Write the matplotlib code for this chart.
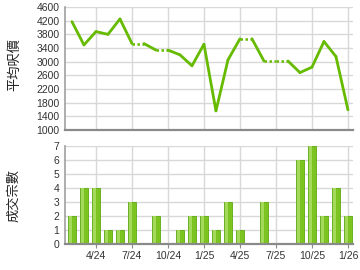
import matplotlib
matplotlib.use("Agg")
import matplotlib.pyplot as plt
import numpy as np

plt.rcParams['font.family'] = ['Liberation Sans', 'Noto Sans CJK TC', 'DejaVu Sans']

months = ["2/24", "3/24", "4/24", "5/24", "6/24", "7/24", "8/24", "9/24", "10/24",
          "11/24", "12/24", "1/25", "2/25", "3/25", "4/25", "5/25", "6/25", "7/25",
          "8/25", "9/25", "10/25", "11/25", "12/25", "1/26"]
avg_price = [4170, 3490, 3880, 3800, 4250, 3530, None, 3340, None,
             3200, 2880, 3510, 1560, 3050, 3670, None, 3020, None,
             None, 2680, 2840, 3590, 3150, 1590]
counts = [2, 4, 4, 1, 1, 3, 0, 2, 0, 1, 2, 2, 1, 3, 1, 0, 3, 0, 0, 6, 7, 2, 4, 2]
tick_labels = ["4/24", "7/24", "10/24", "1/25", "4/25", "7/25", "10/25", "1/26"]
price_ticks = [1000, 1400, 1800, 2200, 2600, 3000, 3400, 3800, 4200, 4600]
count_ticks = [0, 1, 2, 3, 4, 5, 6, 7]

x = np.arange(len(months))
tick_pos = [months.index(t) for t in tick_labels]

fig = plt.figure(figsize=(3.6, 2.7), dpi=100)
W, H = 360, 270
def rect(l, t, r, b):
    return [l / W, 1 - b / H, (r - l) / W, (b - t) / H]

ax1 = fig.add_axes(rect(65, 7, 353, 130))
ax2 = fig.add_axes(rect(65, 146, 353, 244))

grid_c = '#d8d8d8'
line_c = '#66bb00'
for ax in (ax1, ax2):
    ax.set_xlim(-0.58, len(months) - 0.58)
    ax.set_xticks(tick_pos)
    for s in ('top', 'right'):
        ax.spines[s].set_visible(False)
    ax.spines['left'].set_color('#a0a0a0')
    ax.spines['left'].set_linewidth(1.2)
    ax.spines['bottom'].set_color('#8a8a8a')
    ax.spines['bottom'].set_linewidth(1.6)
    ax.grid(True, color=grid_c, linewidth=1.0)
    ax.set_axisbelow(True)
    ax.tick_params(axis='y', length=0, pad=4, labelsize=7.5, labelcolor='#333333')

# top: price line
ax1.set_ylim(1000, 4600)
ax1.set_yticks(price_ticks)
ax1.set_xticklabels([])
ax1.tick_params(axis='x', length=0)
prev = avg_price[0]
for i in range(1, len(months)):
    v = avg_price[i]
    if v is None:
        ax1.plot([x[i - 1], x[i]], [prev, prev], color=line_c, lw=1.8,
                 linestyle=(0, (1, 1)), dash_capstyle='butt')
    else:
        ax1.plot([x[i - 1], x[i]], [prev, v], color=line_c, lw=2.0,
                 solid_capstyle='round', solid_joinstyle='round')
        prev = v
ax1.set_ylabel("平均呎價", fontsize=9.5, color='#222222',
               family=['Noto Sans CJK TC', 'DejaVu Sans'])
ax1.yaxis.set_label_coords(-0.153, 0.53)

# bottom: counts
ax2.set_ylim(0, 7)
ax2.set_yticks(count_ticks)
ax2.set_xticklabels(tick_labels, fontsize=7.5, color='#333333')
ax2.tick_params(axis='x', length=3, color='#8a8a8a', pad=2)
ax2.bar(x, counts, width=0.66, color='#7cc41f', edgecolor='#5ea812', linewidth=0.6)
ax2.bar(x - 0.12, counts, width=0.22, color='#a4d95c', linewidth=0)
ax2.set_ylabel("成交宗數", fontsize=9.5, color='#222222',
               family=['Noto Sans CJK TC', 'DejaVu Sans'])
ax2.yaxis.set_label_coords(-0.155, 0.5)

fig.savefig("out.png", dpi=100)
